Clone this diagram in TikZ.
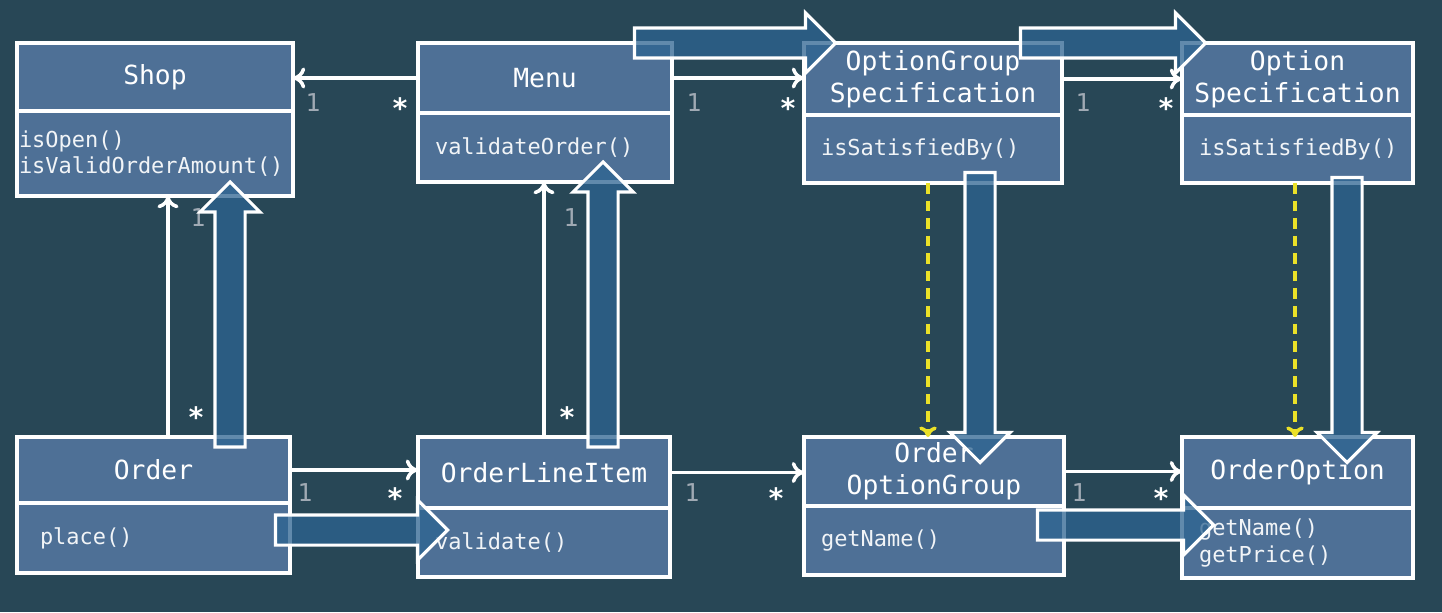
\documentclass[tikz,border=0pt]{standalone}
\usepackage{fontspec}
\setmonofont{DejaVu Sans Mono}
\usetikzlibrary{positioning,shapes.arrows,arrows.meta}

\definecolor{board}{RGB}{40,71,86}
\definecolor{classfill}{RGB}{78,112,150}
\definecolor{flowblue}{RGB}{45,100,145}
\definecolor{multgray}{RGB}{160,170,180}
\definecolor{depyellow}{RGB}{235,225,40}

\tikzset{
  classname/.style={draw=white, line width=2.2pt, fill=classfill, text=white, align=center,
    font=\ttfamily\fontsize{15}{18}\selectfont, inner sep=0pt, outer sep=0pt},
  classops/.style={draw=white, line width=2.2pt, fill=classfill, text=white!92!classfill, align=left,
    font=\ttfamily\fontsize{12.5}{15}\selectfont, inner ysep=0pt, inner xsep=0.34cm, outer sep=0pt},
  assoc/.style={draw=white, line width=2pt, -{To[length=7pt,width=12pt]}},
  depend/.style={draw=depyellow, line width=2pt, dash pattern=on 6pt off 4pt, -{To[length=6pt,width=10pt]}},
  one/.style={text=multgray, font=\ttfamily\fontsize{14}{14}\selectfont},
  many/.style={text=white, font=\ttfamily\bfseries\fontsize{16}{16}\selectfont},
  flow/.style={single arrow, draw=white, line width=1.8pt, fill=flowblue, fill opacity=0.75,
    inner xsep=0pt, inner ysep=0.27cm, single arrow head extend=0.3cm}
}

\begin{document}
\begin{tikzpicture}[x=0.02cm, y=-0.02cm]

        \fill[board] (0,0) rectangle (1442,612);
        \useasboundingbox (0,0) rectangle (1442,612);

        %%% top row
        \node[classname, minimum width=5.52cm, minimum height=1.36cm] (Shop) at (155,77) {Shop};
        \node[classops, minimum width=5.52cm, minimum height=1.70cm, text width=5.44cm, inner xsep=0.04cm, below=0pt of Shop] (ShopOps) {isOpen()\\isValidOrderAmount()};

        \node[classname, minimum width=5.08cm, minimum height=1.40cm] (Menu) at (545,78) {Menu};
        \node[classops, minimum width=5.08cm, minimum height=1.38cm, text width=4.40cm, below=0pt of Menu] (MenuOps) {validateOrder()};

        \node[classname, minimum width=5.16cm, minimum height=1.44cm] (GroupSpec) at (933,79) {OptionGroup\\Specification};
        \node[classops, minimum width=5.16cm, minimum height=1.36cm, text width=4.48cm, below=0pt of GroupSpec] (GroupSpecOps) {isSatisfiedBy()};

        \node[classname, minimum width=4.62cm, minimum height=1.44cm] (OptSpec) at (1297.5,79) {Option\\Specification};
        \node[classops, minimum width=4.62cm, minimum height=1.36cm, text width=3.94cm, below=0pt of OptSpec] (OptSpecOps) {isSatisfiedBy()};

        %%% bottom row
        \node[classname, minimum width=5.46cm, minimum height=1.32cm] (Order) at (153.5,470) {Order};
        \node[classops, minimum width=5.46cm, minimum height=1.40cm, text width=4.54cm, inner xsep=0.46cm, below=0pt of Order] (OrderOps) {place()};

        \node[classname, minimum width=5.04cm, minimum height=1.42cm] (LineItem) at (544,472.5) {OrderLineItem};
        \node[classops, minimum width=5.04cm, minimum height=1.38cm, text width=4.36cm, below=0pt of LineItem] (LineItemOps) {validate()};

        \node[classname, minimum width=5.20cm, minimum height=1.38cm] (OrderGroup) at (934,471.5) {Order\\OptionGroup};
        \node[classops, minimum width=5.20cm, minimum height=1.38cm, text width=4.52cm, below=0pt of OrderGroup] (OrderGroupOps) {getName()};

        \node[classname, minimum width=4.62cm, minimum height=1.42cm] (OrderOpt) at (1297.5,472.5) {OrderOption};
        \node[classops, minimum width=4.62cm, minimum height=1.40cm, text width=3.94cm, below=0pt of OrderOpt] (OrderOptOps) {getName()\\getPrice()};

        %%% associations
        \draw[assoc] (Menu.west) to (Menu.west -| Shop.east);
        \draw[assoc] (Menu.east) to (Menu.east -| GroupSpec.west);
        \draw[assoc] (GroupSpec.east) to (GroupSpec.east -| OptSpec.west);

        \draw[assoc] (Order.east) to (Order.east -| LineItem.west);
        \draw[assoc] (LineItem.east) to (LineItem.east -| OrderGroup.west);
        \draw[assoc] (OrderGroup.east) to (OrderGroup.east -| OrderOpt.west);

        \draw[assoc] ([xshift=0.29cm]Order.north) to ([xshift=0.29cm]Order.north |- ShopOps.south);
        \draw[assoc] (LineItem.north) to (LineItem.north |- MenuOps.south);

        \draw[depend] ([xshift=-0.1cm]GroupSpecOps.south) to ([xshift=-0.1cm]GroupSpecOps.south |- OrderGroup.north);
        \draw[depend] ([xshift=-0.05cm]OptSpecOps.south) to ([xshift=-0.05cm]OptSpecOps.south |- OrderOpt.north);

        %%% multiplicities
        \node[one] (ShopOne) at (313,103) {1};
        \node[many] (MenuMany) at (400,108) {*};
        \node[one] (MenuOne) at (694,103) {1};
        \node[many] (GroupSpecMany) at (788,108) {*};
        \node[one] (GroupSpecOne) at (1083,103) {1};
        \node[many] (OptSpecMany) at (1166,108) {*};

        \node[one] (OrderOne) at (305,493) {1};
        \node[many] (LineItemMany) at (395,498) {*};
        \node[one] (LineItemOne) at (692,493) {1};
        \node[many] (OrderGroupMany) at (776,498) {*};
        \node[one] (OrderGroupOne) at (1079,493) {1};
        \node[many] (OrderOptMany) at (1161,498) {*};

        \node[one] (ShopUpOne) at (198,218) {1};
        \node[many] (OrderUpMany) at (196,417) {*};
        \node[one] (MenuUpOne) at (571,218) {1};
        \node[many] (LineItemUpMany) at (567,417) {*};

        %%% call flow
        \node[flow, rotate=90, minimum height=5.30cm] (PlaceCall) at (230,322) {};
        \node[flow, rotate=90, minimum height=5.70cm] (ValidateCall) at (603,312) {};
        \node[flow, minimum height=4.02cm] (GroupSpecCall) at (727.5,43) {};
        \node[flow, minimum height=3.70cm] (OptSpecCall) at (1105.5,43) {};
        \node[flow, rotate=-90, minimum height=5.80cm] (GroupCheck) at (980,310) {};
        \node[flow, rotate=-90, minimum height=5.70cm] (OptCheck) at (1347,312.5) {};
        \node[flow, minimum height=3.44cm] (LineCall) at (354,530) {};
        \node[flow, minimum height=3.52cm] (OptionCall) at (1118,525) {};

\end{tikzpicture}
\end{document}
